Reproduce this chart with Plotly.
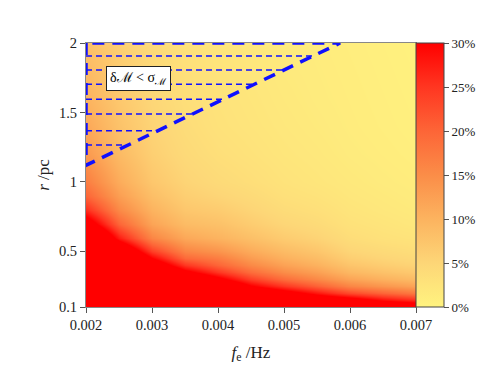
import plotly.graph_objects as go

# ---- data ----
f_vals = [0.002, 0.0025, 0.003, 0.0035, 0.004, 0.0045, 0.005, 0.0055, 0.006, 0.0065, 0.007]
r_vals = [0.1, 0.15, 0.2, 0.25, 0.3, 0.35, 0.4, 0.45, 0.5, 0.6, 0.7, 0.8, 0.9, 1.0, 1.2, 1.4, 1.6, 1.8, 2.0]

# relative chirp-mass error (%) along r, one list per f_e column (values above 30% all show red)
dm_f0020 = [150, 135, 120, 108, 97, 87, 78, 69, 61, 47, 35, 26, 20, 17, 13.5, 11.5, 10, 9, 8.2]
dm_f0025 = [120, 105, 92, 80, 70, 61, 53, 46, 40, 27.5, 20, 15.5, 12.8, 11, 9, 7.8, 7, 6.5, 6.1]
dm_f0030 = [100, 86, 74, 63, 53, 44, 36.5, 30, 24, 16, 12, 10, 8.4, 7.2, 6, 5.3, 4.9, 4.6, 4.4]
dm_f0035 = [85, 72, 60, 49, 40, 32, 25, 19.5, 16, 11.5, 8.8, 7.2, 6.1, 5.3, 4.4, 3.9, 3.5, 3.3, 3.1]
dm_f0040 = [72, 60, 49, 40, 32, 25, 20, 17, 14, 10, 8, 6.5, 5.2, 4.3, 3.5, 3.0, 2.8, 2.6, 2.5]
dm_f0045 = [63, 50, 39, 30.5, 24, 19, 15.5, 13, 11, 8.2, 6.4, 5.2, 4.3, 3.6, 2.9, 2.5, 2.3, 2.1, 2.0]
dm_f0050 = [56, 43, 33.5, 25, 19, 15, 12.3, 10.3, 8.8, 6.5, 5.0, 4.0, 3.3, 2.8, 2.3, 2.0, 1.8, 1.6, 1.5]
dm_f0055 = [50, 37, 28, 20.5, 15.5, 12.5, 10.2, 8.6, 7.3, 5.4, 4.2, 3.4, 2.8, 2.3, 1.9, 1.6, 1.4, 1.3, 1.2]
dm_f0060 = [45, 34, 23, 16, 12, 9.3, 7.5, 6.1, 5.1, 3.8, 3.0, 2.5, 2.1, 1.8, 1.4, 1.2, 1.1, 1.0, 0.9]
dm_f0065 = [41, 29, 20, 13.8, 10.2, 7.9, 6.3, 5.1, 4.3, 3.1, 2.5, 2.0, 1.7, 1.4, 1.1, 0.9, 0.8, 0.7, 0.6]
dm_f0070 = [37, 26, 17.5, 12, 8.8, 6.8, 5.3, 4.4, 3.7, 2.7, 2.0, 1.6, 1.3, 1.1, 0.8, 0.6, 0.5, 0.4, 0.3]

# region where the error is below the measurement uncertainty
region_f = [0.002, 0.002, 0.00585, 0.002]
region_r = [2.0, 1.12, 2.0, 2.0]
hatch_r = [1.906, 1.806, 1.703, 1.595, 1.489, 1.369, 1.266]
hatch_f_end = [0.00544, 0.00500, 0.00455, 0.00407, 0.00361, 0.00308, 0.00263]

x_ticks = [0.002, 0.003, 0.004, 0.005, 0.006, 0.007]
x_ticktext = ["0.002", "0.003", "0.004", "0.005", "0.006", "0.007"]
y_ticks = [0.1, 0.5, 1, 1.5, 2]
y_ticktext = ["0.1", "0.5", "1", "1.5", "2"]
cb_ticks = [0, 5, 10, 15, 20, 25, 30]
cb_ticktext = ["0%", "5%", "10%", "15%", "20%", "25%", "30%"]

columns = [dm_f0020, dm_f0025, dm_f0030, dm_f0035, dm_f0040, dm_f0045,
           dm_f0050, dm_f0055, dm_f0060, dm_f0065, dm_f0070]
z = [[col[i] for col in columns] for i in range(len(r_vals))]

FONT = "Liberation Serif, Times New Roman, serif"

colorscale = [
    [0.0, "#fff37f"],
    [0.1667, "#fdd677"],
    [0.3333, "#fcb35f"],
    [0.5, "#fb8d48"],
    [0.6667, "#fd6537"],
    [0.8333, "#ff3621"],
    [1.0, "#ff0000"],
]

fig = go.Figure()
fig.add_trace(go.Heatmap(
    x=f_vals, y=r_vals, z=z, zmin=0, zmax=30, zsmooth="best",
    colorscale=colorscale, hoverinfo="skip",
    colorbar=dict(
        x=1.0, xanchor="left", xpad=0, y=0.5, yanchor="middle", ypad=0,
        len=1, lenmode="fraction", thickness=28,
        outlinewidth=1, outlinecolor="#444",
        ticks="outside", ticklen=5, tickcolor="#555",
        tickmode="array", tickvals=cb_ticks, ticktext=cb_ticktext,
        tickfont=dict(family=FONT, size=13, color="#222"),
    ),
))

# hatching
hx, hy = [], []
for r, fe in zip(hatch_r, hatch_f_end):
    hx += [f_vals[0], fe, None]
    hy += [r, r, None]
fig.add_trace(go.Scatter(x=hx, y=hy, mode="lines", showlegend=False, hoverinfo="skip",
                         line=dict(color="#1010ff", width=1.5, dash="6px,4px")))
# boundary
fig.add_trace(go.Scatter(x=region_f, y=region_r, mode="lines", showlegend=False, hoverinfo="skip",
                         line=dict(color="#1010ff", width=3.5, dash="12px,8px")))

fig.add_annotation(x=0.002795, y=1.741, xref="x", yref="y", showarrow=False,
                   text="δℳ < σ<sub>ℳ</sub>",
                   font=dict(family=FONT, size=14, color="#000"),
                   bgcolor="white", bordercolor="#222", borderwidth=1, borderpad=3)

axis_common = dict(showline=True, linecolor="#888", linewidth=1, mirror=True,
                   ticks="outside", ticklen=5, tickcolor="#555", showgrid=False, zeroline=False,
                   tickfont=dict(family=FONT, size=14.5, color="#222"))

fig.update_xaxes(range=[0.002, 0.007], tickmode="array", tickvals=x_ticks, ticktext=x_ticktext,
                 title=dict(text="<i>f</i><sub>e</sub> /Hz", font=dict(family=FONT, size=17, color="#222"),
                            standoff=13),
                 **axis_common)
fig.update_yaxes(range=[0.1, 2.0], tickmode="array", tickvals=y_ticks, ticktext=y_ticktext,
                 title=dict(text="<i>r</i> /pc", font=dict(family=FONT, size=17, color="#222"),
                            standoff=5),
                 **axis_common)

# page body adds an 8px offset, so the figure is sized to fit the window
fig.update_layout(
    width=477, height=363,
    margin=dict(l=78, r=69, t=35, b=64, autoexpand=False),
    paper_bgcolor="white", plot_bgcolor="white",
    font=dict(family=FONT),
    showlegend=False,
)

fig.write_html("out.html")
